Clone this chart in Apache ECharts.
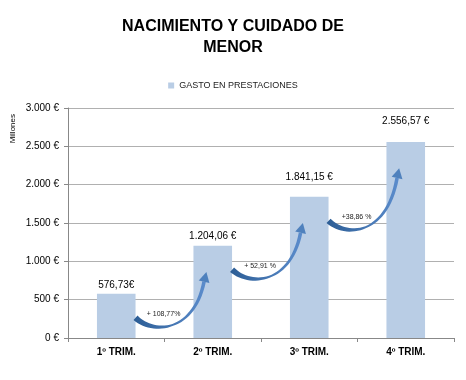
<!DOCTYPE html>
<html><head><meta charset="utf-8">
<script src="https://cdn.jsdelivr.net/npm/echarts@6/dist/echarts.min.js"></script>
<style>html,body{margin:0;padding:0;background:#fff}#c{width:466px;height:380px}</style>
</head><body><div id="c"></div>
<script>
const categories = ['1º TRIM.', '2º TRIM.', '3º TRIM.', '4º TRIM.'];
const gasto = [576.73, 1204.06, 1841.15, 2556.57];
const valueLabels = ['576,73€', '1.204,06 €', '1.841,15 €', '2.556,57 €'];
const growthLabels = ['+ 108,77%', '+ 52,91 %', '+38,86 %'];
const yTicks = [0, 500, 1000, 1500, 2000, 2500, 3000];

const FONT = '"Liberation Sans", Arial, sans-serif';
const chart = echarts.init(document.getElementById('c'));

function fmtEuro(v) {
  return String(v).replace(/\B(?=(\d{3})+(?!\d))/g, '.') + ' €';
}
const labelDist = [4, 4, 15, 16];

function bez(p0, p1, p2, p3, t) {
  const u = 1 - t;
  return [
    u*u*u*p0[0] + 3*u*u*t*p1[0] + 3*u*t*t*p2[0] + t*t*t*p3[0],
    u*u*u*p0[1] + 3*u*u*t*p1[1] + 3*u*t*t*p2[1] + t*t*t*p3[1]
  ];
}

function renderArrow(params, api) {
  const i = api.value(0);
  const band = api.size([1, 0])[0];
  const a = api.coord([i, gasto[i]]);
  const b = api.coord([i + 1, gasto[i + 1]]);
  const S = [a[0] + 0.2 * band, a[1] + 24];
  const E = [b[0] - 0.09 * band, b[1] + 36];
  const C1 = [S[0] + 18, S[1] + 17];
  const C2 = [E[0] - 10, S[1] + 14];
  const N = 30, left = [], right = [];
  for (let k = 0; k <= N; k++) {
    const t = k / N;
    const p = bez(S, C1, C2, E, t);
    const q = bez(S, C1, C2, E, Math.min(1, t + 0.01));
    const q0 = bez(S, C1, C2, E, Math.max(0, t - 0.01));
    let dx = q[0] - q0[0], dy = q[1] - q0[1];
    const L = Math.hypot(dx, dy) || 1; dx /= L; dy /= L;
    const w = t < 0.5 ? 3.0 - 4.0 * t : 1.0 + 1.6 * (t - 0.5);
    left.push([p[0] - dy * w, p[1] + dx * w]);
    right.push([p[0] + dy * w, p[1] - dx * w]);
  }
  const body = left.concat(right.reverse());
  const pe = bez(S, C1, C2, E, 0.95);
  let dx = E[0] - pe[0], dy = E[1] - pe[1];
  const L = Math.hypot(dx, dy) || 1; dx /= L; dy /= L;
  const tip = [E[0] + dx * 10, E[1] + dy * 10];
  const head = [tip, [E[0] - dy * 5.5, E[1] + dx * 5.5], [E[0] + dy * 5.5, E[1] - dx * 5.5]];
  return {
    type: 'group',
    children: [
      { type: 'polygon', shape: { points: body }, style: { fill: new echarts.graphic.LinearGradient(0, 0, 1, 0, [{offset: 0, color: '#2c5d95'}, {offset: 1, color: '#5b8ccc'}]) } },
      { type: 'polygon', shape: { points: head }, style: { fill: '#4f81bd' } },
      { type: 'text', style: { text: growthLabels[i], x: S[0] + 28, y: S[1] - 4, align: 'center', verticalAlign: 'middle', font: '7px ' + FONT, fill: '#222' } }
    ]
  };
}

chart.setOption({
  animation: false,
  title: {
    text: 'NACIMIENTO Y CUIDADO DE\nMENOR',
    left: 'center', top: 11,
    textStyle: { fontFamily: FONT, fontWeight: 'bold', fontSize: 16, lineHeight: 21, color: '#000' }
  },
  legend: {
    top: 76, left: 'center',
    itemWidth: 6, itemHeight: 6, icon: 'rect',
    textStyle: { fontFamily: FONT, fontSize: 9, color: '#222' },
    data: ['GASTO EN PRESTACIONES']
  },
  graphic: [{
    type: 'text', left: 9, top: 114, rotation: Math.PI / 2,
    style: { text: 'Millones', font: '8px ' + FONT, fill: '#000' }
  }],
  grid: { left: 68, right: 12, top: 108, bottom: 42 },
  xAxis: {
    type: 'category', data: categories,
    axisLine: { lineStyle: { color: '#888' } },
    axisTick: { show: true, length: 4, lineStyle: { color: '#888' } },
    axisLabel: { fontFamily: FONT, fontWeight: 'bold', fontSize: 10, color: '#000', margin: 9 }
  },
  yAxis: {
    type: 'value', min: 0, max: 3000, interval: 500,
    axisLine: { show: true, lineStyle: { color: '#888' } },
    axisTick: { show: true, length: 4, lineStyle: { color: '#888' } },
    splitLine: { lineStyle: { color: '#b0b0b0' } },
    axisLabel: { fontFamily: FONT, fontSize: 10, color: '#000', margin: 9, formatter: v => fmtEuro(v) }
  },
  series: [
    {
      name: 'GASTO EN PRESTACIONES', type: 'bar', barWidth: '40%',
      itemStyle: { color: '#b9cde5' },
      data: gasto.map((v, i) => ({
        value: v,
        label: { show: true, position: 'top', distance: labelDist[i], formatter: valueLabels[i], fontFamily: FONT, fontSize: 10, color: '#000' }
      }))
    },
    {
      type: 'custom', renderItem: renderArrow, z: 10,
      data: growthLabels.map((_, i) => [i]),
      tooltip: { show: false }, silent: true
    }
  ]
});
</script>
</body></html>
